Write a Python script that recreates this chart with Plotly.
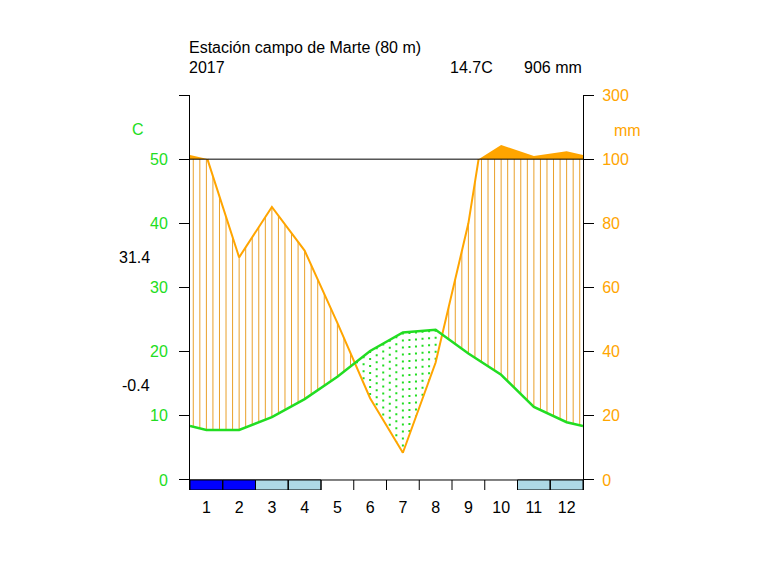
import numpy as np
import plotly.graph_objects as go

# ---------------- data ----------------
months = list(range(1, 13))
month_labels = [str(m) for m in months]
temp = [7.8, 7.8, 9.8, 12.6, 16.1, 20.1, 23.0, 23.4, 19.7, 16.4, 11.4, 9.0]      # C
precip = [101, 69.4, 85.1, 71.5, 49, 25.5, 8.5, 36.6, 80, 144, 110, 125]          # mm
frost_class = [2, 2, 1, 1, 0, 0, 0, 0, 0, 0, 1, 1]   # 2 = sure frost, 1 = probable frost
station_title = "Estación campo de Marte (80 m)"
year_label = "2017"
mean_temp_label = "14.7C"
total_precip_label = "906 mm"
max_temp_label = "31.4"
min_temp_label = "-0.4"
temp_tickvals = [0, 10, 20, 30, 40, 50, 60]
temp_ticktext = ["0", "10", "20", "30", "40", "50", ""]
precip_ticktext = ["0", "20", "40", "60", "80", "100", "300"]

# ---------------- styles ----------------
GREEN = "#22DD22"
ORANGE = "#FFA500"
HATCH = "#E9A02A"
FONT = "Arial, Liberation Sans, sans-serif"
FS = 16
frost_colors = {2: "#0000FF", 1: "#ADD8E6"}
YMIN = -1.56

# ---------------- derived series ----------------
xc = np.arange(12) + 0.5
xe = np.concatenate([[-0.5], xc, [12.5]])
t_ext = np.array([temp[11]] + temp + [temp[0]], dtype=float)
p_ext = np.array([precip[11]] + precip + [precip[0]], dtype=float)
pu_ext = p_ext / 2.0                                           # 1 C = 2 mm
pc_ext = np.where(p_ext > 100, 50 + (p_ext - 100) / 20.0, p_ext / 2.0)  # compressed above 100 mm

xn = np.concatenate([[0.0], xc, [12.0]])
tn = np.interp(xn, xe, t_ext)
pun = np.interp(xn, xe, pu_ext)
pcn = np.interp(xn, xe, pc_ext)

# precipitation line (only where <= 100 mm)
lx, ly = [], []
for i in range(len(xn)):
    if i > 0:
        a, b = pun[i - 1], pun[i]
        if (a - 50) * (b - 50) < 0:
            xcr = xn[i - 1] + (50 - a) / (b - a) * (xn[i] - xn[i - 1])
            lx.append(xcr); ly.append(50.0)
            if b > 50:
                lx.append(None); ly.append(None)
    if pun[i] <= 50:
        lx.append(xn[i]); ly.append(pun[i])

# fill above 100 mm
fx, fy = [0.0], [50.0]
for i in range(len(xn)):
    if i > 0:
        a, b = pun[i - 1], pun[i]
        if (a - 50) * (b - 50) < 0:
            xcr = xn[i - 1] + (50 - a) / (b - a) * (xn[i] - xn[i - 1])
            fx.append(xcr); fy.append(50.0)
    fx.append(xn[i]); fy.append(pcn[i] if pun[i] > 50 else 50.0)
fx.append(12.0); fy.append(50.0)

# hatch (humid) and dotted (dry) verticals
xg = -0.5 + 0.2 * np.arange(66)
xg = xg[(xg > 0) & (xg < 12)]
tg = np.interp(xg, xe, t_ext)
pg = np.interp(xg, xe, pu_ext)
hx, hy, dx, dy = [], [], [], []
for x, t, p in zip(xg, tg, pg):
    top = min(p, 50.0)
    if top > t:
        hx += [x, x, None]; hy += [t, top, None]
    elif t > p:
        dx += [x, x, None]; dy += [t, p, None]

fig = go.Figure()
fig.add_trace(go.Scatter(x=hx, y=hy, mode="lines", line=dict(color=HATCH, width=1),
                         hoverinfo="skip", showlegend=False))
fig.add_trace(go.Scatter(x=dx, y=dy, mode="lines", line=dict(color=GREEN, width=2, dash="2px,5px"),
                         hoverinfo="skip", showlegend=False))
fig.add_trace(go.Scatter(x=fx, y=fy, mode="lines", fill="toself", fillcolor=ORANGE,
                         line=dict(color=ORANGE, width=0), hoverinfo="skip", showlegend=False))
fig.add_trace(go.Scatter(x=lx, y=ly, mode="lines", line=dict(color=ORANGE, width=2),
                         connectgaps=False, showlegend=False))
fig.add_trace(go.Scatter(x=list(xn), y=list(tn), mode="lines", line=dict(color=GREEN, width=2.5),
                         showlegend=False))
# invisible trace for right axis
fig.add_trace(go.Scatter(x=[0], y=[0], yaxis="y2", mode="markers", marker=dict(opacity=0),
                         hoverinfo="skip", showlegend=False))

shapes = []
shapes.append(dict(type="line", xref="x", yref="y", x0=0, x1=12, y0=50, y1=50,
                   line=dict(color="black", width=1)))
shapes.append(dict(type="line", xref="x", yref="y", x0=0, x1=12, y0=0, y1=0,
                   line=dict(color="black", width=1)))
for i, fc in enumerate(frost_class):
    if fc in frost_colors:
        shapes.append(dict(type="rect", xref="x", yref="y", x0=i, x1=i + 1, y0=YMIN, y1=0,
                           fillcolor=frost_colors[fc], line=dict(color="black", width=1)))
for i in range(1, 12):
    shapes.append(dict(type="line", xref="x", yref="y", x0=i, x1=i, y0=YMIN, y1=0,
                       line=dict(color="black", width=1)))

# plot area in window pixels (page body adds an 8px offset)
OFF = 8
W, H = 773 - OFF, 566 - OFF
PX0, PX1, PY0, PY1 = 190, 583, 95, 490
def px(x):
    return (x - PX0) / (PX1 - PX0)
def py(y):
    return (PY1 - y) / (PY1 - PY0)

ann = []
def txt(s, x, y, xa, color="black"):
    ann.append(dict(text=s, x=px(x), y=py(y), xref="paper", yref="paper", xanchor=xa,
                    yanchor="middle", showarrow=False, font=dict(family=FONT, size=FS, color=color)))
txt(station_title, 187, 47, "left")
txt(year_label, 187, 67, "left")
txt(mean_temp_label, 495, 67, "right")
txt(total_precip_label, 584, 67, "right")
txt("C", 138, 129, "center", GREEN)
txt("mm", 627, 130, "center", ORANGE)
txt(max_temp_label, 152, 257, "right")
txt(min_temp_label, 152, 385, "right")

fig.update_layout(
    width=W, height=H,
    margin=dict(l=PX0 - OFF, r=W - (PX1 - OFF), t=PY0 - OFF, b=H - (PY1 - OFF), pad=0),
    paper_bgcolor="white", plot_bgcolor="white",
    font=dict(family=FONT, size=FS, color="black"),
    shapes=shapes, annotations=ann,
    xaxis=dict(range=[0, 12], tickvals=list(xc), ticktext=month_labels, ticks="",
               showline=False, showgrid=False, zeroline=False, ticklabelstandoff=6,
               tickfont=dict(family=FONT, size=FS, color="black")),
    yaxis=dict(range=[YMIN, 60], tickvals=temp_tickvals, ticktext=temp_ticktext,
               ticks="outside", ticklen=10, tickwidth=1, tickcolor="black",
               showline=True, linecolor="black", linewidth=1, showgrid=False, zeroline=False,
               ticklabelstandoff=8, tickfont=dict(family=FONT, size=FS, color=GREEN)),
    yaxis2=dict(range=[YMIN, 60], overlaying="y", side="right", tickvals=temp_tickvals,
                ticktext=precip_ticktext, ticks="outside", ticklen=10, tickwidth=1,
                tickcolor="black", showline=True, linecolor="black", linewidth=1,
                showgrid=False, zeroline=False, ticklabelstandoff=5,
                tickfont=dict(family=FONT, size=FS, color=ORANGE)),
)
fig.write_html("out.html")
